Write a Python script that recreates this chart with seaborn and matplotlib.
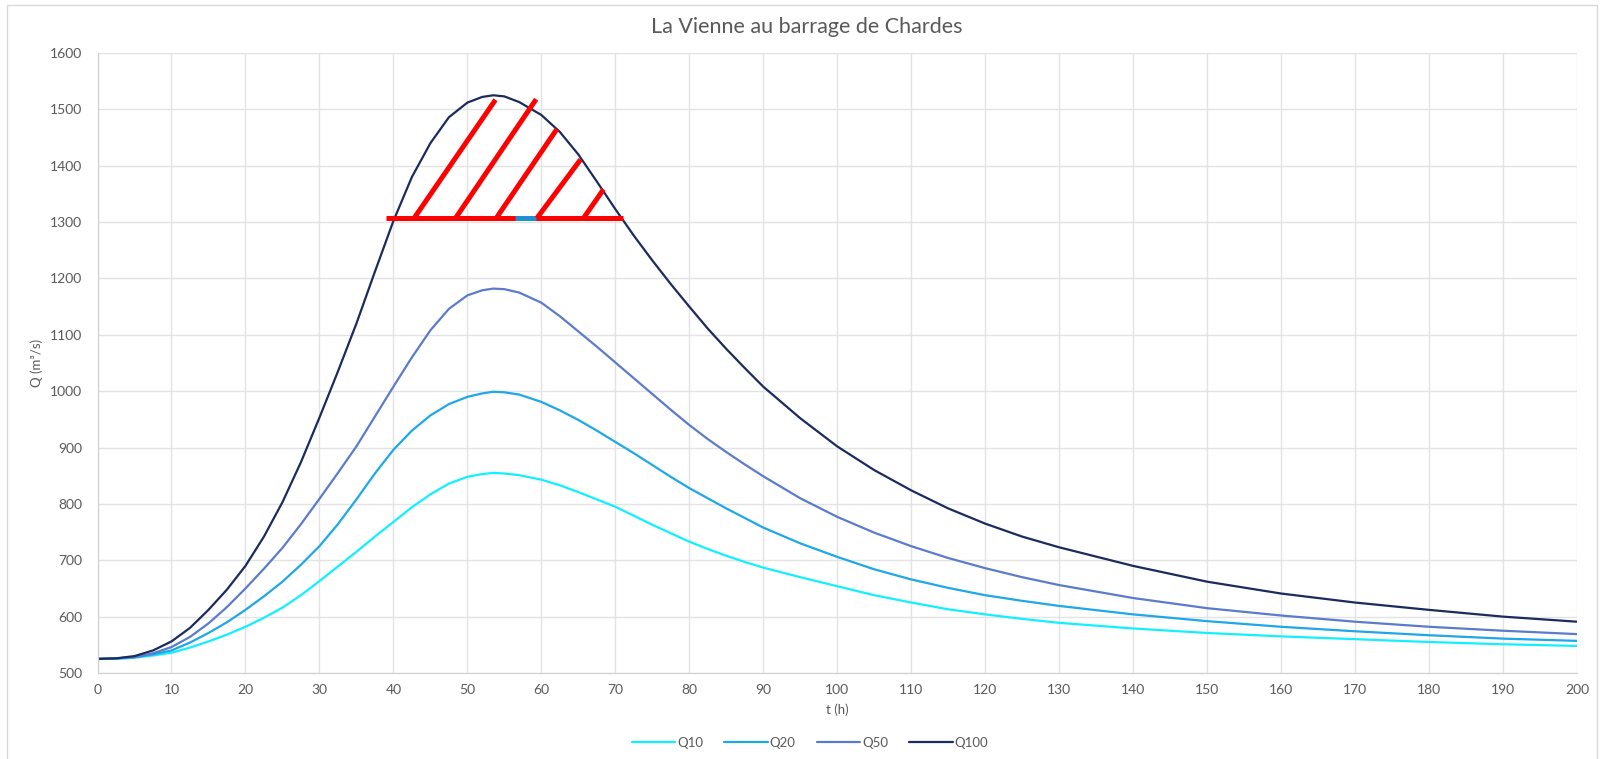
import numpy as np
import pandas as pd
import matplotlib
matplotlib.use("Agg")
import matplotlib.pyplot as plt
from matplotlib.patches import Rectangle
import seaborn as sns

# hydrogrammes de crue
t = [0, 2.5, 5, 7.5, 10, 12.5, 15, 17.5, 20, 22.5, 25, 27.5, 30, 32.5, 35, 37.5, 40, 42.5, 45, 47.5, 50,
     52, 53.5, 55, 57,
     60, 62.5, 65, 67.5, 70, 72.5, 75, 77.5, 80, 82.5, 85, 87.5, 90,
     95, 100, 105, 110, 115, 120, 125, 130,
     140, 150, 160, 170, 180, 190, 200]
q10 = [525, 525, 527, 531, 536, 545, 556, 568, 582, 598, 616, 638, 663, 689, 715, 742, 768, 794, 817, 836, 848,
       853, 855, 854, 851,
       843, 833, 821, 808, 795, 779, 763, 748, 733, 720, 708, 697, 687,
       670, 654, 638, 625, 613, 604, 596, 589,
       579, 571, 565, 560, 555, 551, 548]
q20 = [525, 526, 528, 533, 540, 554, 571, 590, 612, 636, 662, 692, 725, 764, 808, 854, 896, 930, 957, 977, 990,
       996, 999, 998, 994,
       981, 966, 949, 930, 910, 890, 869, 848, 828, 810, 792, 775, 758,
       730, 706, 684, 666, 651, 638, 628, 619,
       604, 592, 582, 574, 567, 561, 557]
q50 = [525, 526, 528, 535, 546, 564, 588, 617, 650, 685, 722, 764, 809, 855, 902, 955, 1008, 1060, 1108, 1146, 1170,
       1179, 1182, 1181, 1175,
       1157, 1133, 1106, 1079, 1051, 1023, 995, 967, 940, 915, 892, 870, 849,
       810, 777, 749, 725, 704, 686, 670, 656,
       633, 615, 602, 591, 582, 575, 569]
q100 = [525, 526, 530, 540, 556, 580, 612, 648, 690, 742, 803, 874, 953, 1035, 1120, 1212, 1302, 1380, 1440, 1486, 1512,
        1522, 1525, 1523, 1513,
        1490, 1460, 1420, 1372, 1323, 1276, 1232, 1190, 1150, 1111, 1075, 1041, 1008,
        952, 902, 860, 824, 792, 765, 742, 723,
        690, 662, 641, 625, 612, 600, 591]
series = ['Q10', 'Q20', 'Q50', 'Q100']
colors = ['#12f0ff', '#1ea8e8', '#5b7bcb', '#1c2b5e']

# hachures rouges (volume au-dessus de 1300 m3/s)
seuil = 1307
seuil_t = [39, 71]
hach_t0 = [42.8, 48.4, 53.9, 59.4, 65.7]
hach_t1 = [53.8, 59.3, 62.1, 65.3, 68.4]
hach_q1 = [1517, 1518, 1465, 1411, 1358]
bleu_t = [56.5, 59.3]

df = pd.DataFrame({'t': t * 4, 'Q': q10 + q20 + q50 + q100,
                   'serie': np.repeat(series, len(t))})

sns.set_style("white")
plt.rcParams['font.family'] = ['Lato', 'DejaVu Sans']

fig = plt.figure(figsize=(16.04, 7.59), dpi=100)
ax = fig.add_axes([97.5 / 1604, 1 - 673 / 759, (1577 - 97.5) / 1604, (673 - 53) / 759])

sns.lineplot(data=df, x='t', y='Q', hue='serie', palette=dict(zip(series, colors)),
             linewidth=1.6, ax=ax, legend=True)

ax.plot(seuil_t, [seuil, seuil], color='red', lw=3.6, solid_capstyle='butt', zorder=5)
ax.plot(bleu_t, [seuil, seuil], color='#1f8fd0', lw=3.6, solid_capstyle='butt', zorder=6)
for a, b, c in zip(hach_t0, hach_t1, hach_q1):
    ax.plot([a, b], [seuil, c], color='red', lw=3.6, solid_capstyle='butt', zorder=7)

ax.set_xlim(0, 200)
ax.set_ylim(500, 1600)
ax.set_xticks(np.arange(0, 201, 10))
ax.set_yticks(np.arange(500, 1601, 100))
ax.grid(True, color='#e3e3e3', lw=1)
ax.set_axisbelow(True)
for s in ['top', 'right']:
    ax.spines[s].set_visible(False)
for s in ['left', 'bottom']:
    ax.spines[s].set_color('#d0d0d0')
ax.tick_params(length=0, labelsize=10, labelcolor='#595959')
ax.tick_params(axis='y', pad=11)
ax.tick_params(axis='x', pad=8)
ax.set_xlabel('t (h)', fontsize=9.5, color='#595959', labelpad=5)
ax.set_ylabel('Q (m³/s)', fontsize=9.5, color='#595959', labelpad=5)

fig.suptitle('La Vienne au barrage de Chardes', x=0.503, y=1 - 27 / 759, va='center',
             fontsize=15.5, color='#595959')

handles, labels = ax.get_legend_handles_labels()
ax.legend_.remove()
fig.legend(handles, labels, loc='center', bbox_to_anchor=(0.505, 1 - 743 / 759), ncol=4,
           frameon=False, fontsize=9.5, handlelength=3.3, handletextpad=0.15, columnspacing=1.6,
           labelcolor='#595959')

fig.patches.append(Rectangle((7 / 1604, -0.05), (1597 - 7) / 1604, 1.05 - 5 / 759,
                             transform=fig.transFigure, fill=False, edgecolor='#d9d9d9', lw=1))

fig.savefig('out.png', dpi=100)
